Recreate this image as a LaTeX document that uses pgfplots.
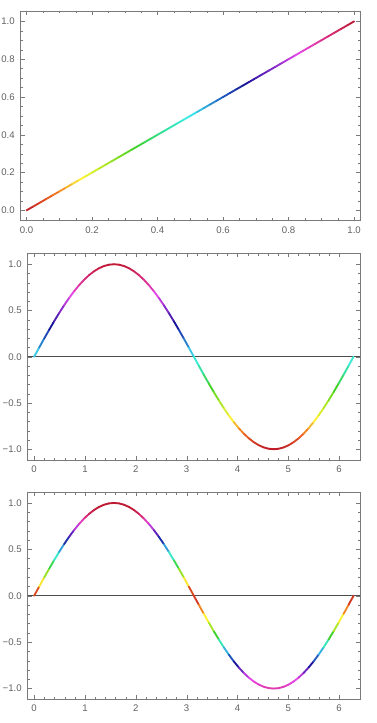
\documentclass[border=0pt]{standalone}
\usepackage{fontspec}
\setmainfont{Liberation Sans}
\usepackage{pgfplots}
\usepackage{pgfplotstable}
\pgfplotsset{compat=1.18}

\pgfplotstableread{
x y
0.00 0.00
0.02 0.02
0.04 0.04
0.06 0.06
0.08 0.08
0.10 0.10
0.12 0.12
0.14 0.14
0.16 0.16
0.18 0.18
0.20 0.20
0.22 0.22
0.24 0.24
0.26 0.26
0.28 0.28
0.30 0.30
0.32 0.32
0.34 0.34
0.36 0.36
0.38 0.38
0.40 0.40
0.42 0.42
0.44 0.44
0.46 0.46
0.48 0.48
0.50 0.50
0.52 0.52
0.54 0.54
0.56 0.56
0.58 0.58
0.60 0.60
0.62 0.62
0.64 0.64
0.66 0.66
0.68 0.68
0.70 0.70
0.72 0.72
0.74 0.74
0.76 0.76
0.78 0.78
0.80 0.80
0.82 0.82
0.84 0.84
0.86 0.86
0.88 0.88
0.90 0.90
0.92 0.92
0.94 0.94
0.96 0.96
0.98 0.98
1.00 1.00
}\linetable

% x, sin x, colour value of the third panel
\pgfplotstableread{
x y c
0.0000 0.0000 0.000
0.0982 0.0980 0.106
0.1963 0.1951 0.211
0.2945 0.2903 0.314
0.3927 0.3827 0.413
0.4909 0.4714 0.509
0.5890 0.5556 0.600
0.6872 0.6344 0.685
0.7854 0.7071 0.764
0.8836 0.7730 0.835
0.9817 0.8315 0.898
1.0799 0.8819 0.952
1.1781 0.9239 0.998
1.2763 0.9569 1.000
1.3744 0.9808 1.000
1.4726 0.9952 1.000
1.5708 1.0000 1.000
1.6690 0.9952 1.000
1.7671 0.9808 1.000
1.8653 0.9569 1.000
1.9635 0.9239 0.998
2.0617 0.8819 0.952
2.1598 0.8315 0.898
2.2580 0.7730 0.835
2.3562 0.7071 0.764
2.4544 0.6344 0.685
2.5525 0.5556 0.600
2.6507 0.4714 0.509
2.7489 0.3827 0.413
2.8471 0.2903 0.314
2.9452 0.1951 0.211
3.0434 0.0980 0.106
3.1416 0.0000 0.000
3.2398 -0.0980 0.067
3.3379 -0.1951 0.133
3.4361 -0.2903 0.206
3.5343 -0.3827 0.288
3.6325 -0.4714 0.389
3.7306 -0.5556 0.505
3.8288 -0.6344 0.576
3.9270 -0.7071 0.641
4.0252 -0.7730 0.705
4.1233 -0.8315 0.767
4.2215 -0.8819 0.821
4.3197 -0.9239 0.842
4.4179 -0.9569 0.858
4.5160 -0.9808 0.870
4.6142 -0.9952 0.878
4.7124 -1.0000 0.880
4.8106 -0.9952 0.878
4.9087 -0.9808 0.870
5.0069 -0.9569 0.858
5.1051 -0.9239 0.842
5.2033 -0.8819 0.821
5.3014 -0.8315 0.767
5.3996 -0.7730 0.705
5.4978 -0.7071 0.641
5.5960 -0.6344 0.576
5.6941 -0.5556 0.505
5.7923 -0.4714 0.389
5.8905 -0.3827 0.288
5.9887 -0.2903 0.206
6.0868 -0.1951 0.133
6.1850 -0.0980 0.067
6.2832 0.0000 0.000
}\sinetable

\pgfplotsset{
  colormap={mma}{
    rgb=(0.75,0.10,0.15)
    rgb=(0.93,0.42,0.13)
    rgb=(1.00,0.95,0.20)
    rgb=(0.65,0.90,0.15)
    rgb=(0.25,0.82,0.15)
    rgb=(0.20,0.88,0.60)
    rgb=(0.25,0.93,0.93)
    rgb=(0.15,0.45,0.80)
    rgb=(0.08,0.08,0.60)
    rgb=(0.50,0.15,0.78)
    rgb=(0.90,0.28,0.90)
    rgb=(0.85,0.18,0.50)
    rgb=(0.75,0.10,0.20)
  },
  mma/.style={
    scale only axis,
    anchor=north west,
    axis line style={black!52},
    tick style={black!52},
    tick align=inside,
    major tick length=3pt,
    minor tick length=1.7pt,
    ticklabel style={font=\fontsize{7.2}{8}\selectfont, text=black!62},
    xticklabel style={yshift=-1.0pt},
    yticklabel style={xshift=-1.0pt},
    /pgf/number format/assume math mode=true,
    colormap name=mma,
  },
  curve/.style={mesh, shader=interp, line width=1.4pt, line cap=round},
}

\begin{document}
\begin{tikzpicture}
\path[use as bounding box] (0,0) rectangle (282.75pt,-542.25pt);

\begin{axis}[mma,
  at={(15.5pt,-8.25pt)},
  width=254.5pt, height=157.3pt,
  xmin=-0.018, xmax=1.018, ymin=-0.055, ymax=1.055,
  xtick={0,0.2,0.4,0.6,0.8,1},
  xticklabels={0.0,0.2,0.4,0.6,0.8,1.0},
  ytick={0,0.2,0.4,0.6,0.8,1},
  yticklabels={0.0,0.2,0.4,0.6,0.8,1.0},
  minor x tick num=3, minor y tick num=3,
  point meta min=0, point meta max=1]
\addplot[curve, point meta=\thisrow{x}] table[x=x,y=y] {\linetable};
\end{axis}

\begin{axis}[mma,
  at={(20.8pt,-190pt)},
  width=249.2pt, height=155pt,
  xmin=-0.126, xmax=6.41, ymin=-1.117, ymax=1.118,
  xtick={0,1,2,3,4,5,6},
  ytick={-1,-0.5,0,0.5,1},
  yticklabels={−1.0,−0.5,0.0,0.5,1.0},
  minor x tick num=4, minor y tick num=4,
  point meta min=-1, point meta max=1]
\addplot[black!70, line width=0.6pt, forget plot] coordinates {(-1,0) (7,0)};
\addplot[curve, point meta=\thisrow{y}] table[x=x,y=y] {\sinetable};
\end{axis}

\begin{axis}[mma,
  at={(20.8pt,-369.2pt)},
  width=249.2pt, height=155pt,
  xmin=-0.126, xmax=6.41, ymin=-1.112, ymax=1.115,
  xtick={0,1,2,3,4,5,6},
  ytick={-1,-0.5,0,0.5,1},
  yticklabels={−1.0,−0.5,0.0,0.5,1.0},
  minor x tick num=4, minor y tick num=4,
  point meta min=0, point meta max=1]
\addplot[black!70, line width=0.6pt, forget plot] coordinates {(-1,0) (7,0)};
\addplot[curve, point meta=\thisrow{c}] table[x=x,y=y] {\sinetable};
\end{axis}
\end{tikzpicture}
\end{document}
